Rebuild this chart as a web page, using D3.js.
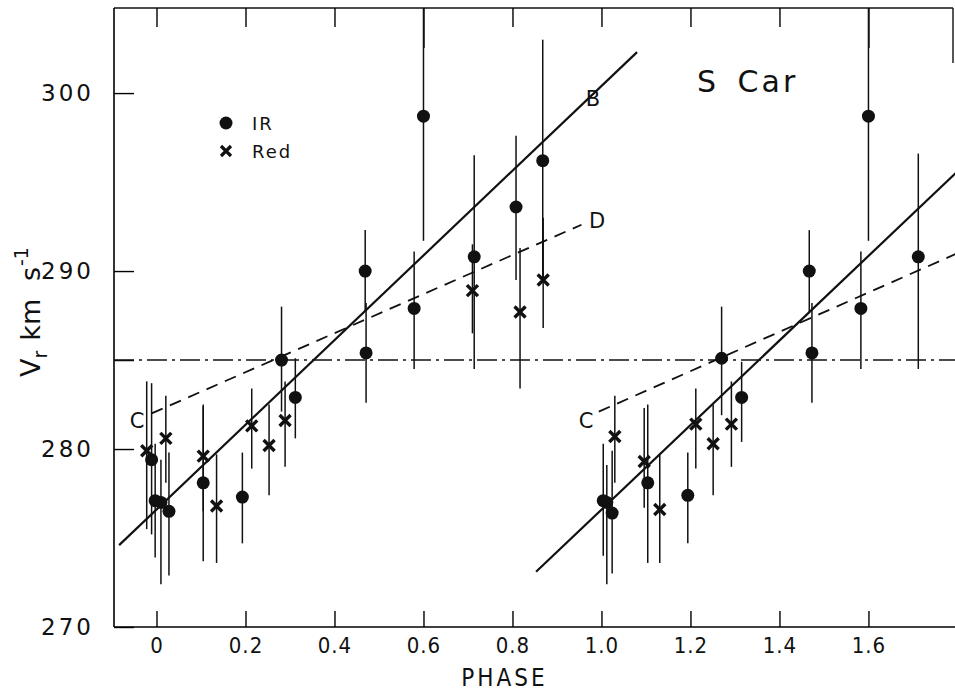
<!DOCTYPE html>
<html>
<head>
<meta charset="utf-8">
<script src="https://cdn.jsdelivr.net/npm/d3@7"></script>
<style>
  body { margin: 0; background: #fff; }
</style>
</head>
<body>
<div class="graph"></div>
<script>
// IR points: [phase, Vr, low end of bar, high end of bar]
const irPoints = [
  [-0.011, 279.4, 275.2, 283.7],
  [-0.003, 277.1, 273.9, 280.3],
  [0.010, 277.0, 272.4, 279.4],
  [0.028, 276.5, 272.9, 279.8],
  [0.105, 278.1, 273.7, 282.4],
  [0.193, 277.3, 274.7, 279.8],
  [0.281, 285.0, 282.1, 288.0],
  [0.312, 282.9, 280.6, 285.1],
  [0.469, 290.0, 287.7, 292.3],
  [0.471, 285.4, 282.6, 288.2],
  [0.579, 287.9, 284.5, 291.1],
  [0.600, 298.7, 291.7, 305.7],
  [0.714, 290.8, 284.5, 296.5],
  [0.808, 293.6, 289.5, 297.6],
  [0.868, 296.2, 289.4, 303.0],
  [1.004, 277.1, 274.0, 280.3],
  [1.012, 277.0, 272.4, 279.1],
  [1.024, 276.4, 273.0, 279.9],
  [1.104, 278.1, 273.6, 282.5],
  [1.194, 277.4, 274.7, 279.8],
  [1.270, 285.1, 281.9, 288.0],
  [1.315, 282.9, 280.4, 284.9],
  [1.467, 290.0, 287.7, 292.3],
  [1.473, 285.4, 282.6, 288.2],
  [1.583, 287.9, 284.5, 291.1],
  [1.600, 298.7, 291.7, 305.7],
  [1.712, 290.8, 284.5, 296.6]
]

// Red points: [phase, Vr, low, high]
const redPoints = [
  [-0.022, 279.9, 275.5, 283.8],
  [0.021, 280.6, 278.1, 283.0],
  [0.105, 279.6, 276.5, 282.5],
  [0.135, 276.8, 273.6, 279.7],
  [0.214, 281.3, 278.9, 283.4],
  [0.253, 280.2, 277.4, 282.5],
  [0.289, 281.6, 279.0, 283.8],
  [0.710, 288.9, 286.5, 291.5],
  [0.817, 287.7, 283.4, 291.3],
  [0.869, 289.5, 286.8, 293.0],
  [1.030, 280.7, 278.1, 283.0],
  [1.096, 279.3, 276.7, 282.3],
  [1.131, 276.6, 273.6, 279.7],
  [1.212, 281.4, 278.9, 283.4],
  [1.251, 280.3, 277.4, 282.5],
  [1.292, 281.4, 279.0, 283.8]
]

// fitted lines, end points [phase, Vr]
const lineB = [[-0.084, 274.6], [1.080, 302.3]]
const lineB2 = [[0.853, 273.1], [1.800, 295.6]]
const lineD = [[-0.011, 282.0], [0.955, 292.6]]
const lineD2 = [[0.994, 282.1], [1.800, 291.0]]
const meanV = 285

const xTicks = [0, 0.2, 0.4, 0.6, 0.8, 1.0, 1.2, 1.4, 1.6]
const xTickLabels = ["0", "0.2", "0.4", "0.6", "0.8", "1.0", "1.2", "1.4", "1.6"]
const longTopTicks = [0.6, 1.6]
const yTicks = [270, 280, 285, 290, 300]
const yTickLabels = [270, 280, 290, 300]

const width = 955, height = 694
const plot = {left: 114, right: 953, top: 8, bottom: 627}

const svg = d3.select(".graph").append("svg")
    .attr("width", width)
    .attr("height", height)
    .style("background", "#fff")

const x = d3.scaleLinear()
    .domain([-0.0955, 1.79])
    .range([plot.left, plot.right])

const y = d3.scaleLinear()
    .domain([270, 304.78])
    .range([plot.bottom, plot.top])

svg.append("clipPath").attr("id", "clip")
  .append("rect")
    .attr("x", plot.left).attr("y", plot.top)
    .attr("width", width - plot.left).attr("height", plot.bottom - plot.top)

const ink = "#111"

// frame
svg.append("line")
    .attr("x1", plot.left).attr("x2", plot.right)
    .attr("y1", plot.top).attr("y2", plot.top)
    .style("stroke", ink).style("stroke-width", 1.6)
svg.append("line")
    .attr("x1", plot.right).attr("x2", plot.right)
    .attr("y1", plot.top).attr("y2", 63)
    .style("stroke", ink).style("stroke-width", 1.4)

// bottom axis, ticks pointing up
svg.append("g")
    .attr("transform", `translate(0, ${plot.bottom})`)
    .call(d3.axisBottom(x).tickValues(xTicks).tickSize(-16).tickSizeOuter(0)
        .tickFormat((d, i) => xTickLabels[i]))
    .call(g => g.select(".domain").attr("d", `M${plot.left},0H${width}`).style("stroke-width", 1.6))
    .call(g => g.selectAll(".tick line").style("stroke-width", 1.4))
    .call(g => g.selectAll("text")
        .attr("dy", "1.05em")
        .style("fill", ink)
        .style("font-family", "'Liberation Sans Narrow', 'DejaVu Sans Condensed', 'DejaVu Sans', sans-serif")
        .style("font-size", "22px")
        .style("letter-spacing", "1px"))

// top axis, ticks pointing down
svg.append("g")
    .attr("transform", `translate(0, ${plot.top})`)
    .call(d3.axisTop(x).tickValues(xTicks).tickFormat("").tickSizeOuter(0)
        .tickSize(-19))
    .call(g => g.select(".domain").remove())
    .call(g => g.selectAll(".tick line")
        .attr("y2", d => longTopTicks.includes(d) ? 40 : 19)
        .style("stroke-width", 1.4))

// left axis, ticks pointing right
svg.append("g")
    .attr("transform", `translate(${plot.left}, 0)`)
    .call(d3.axisLeft(y).tickValues(yTicks).tickSize(-20).tickSizeOuter(0)
        .tickFormat(d => yTickLabels.includes(d) ? d : ""))
    .call(g => g.select(".domain").attr("d", `M0,${plot.top}V${plot.bottom}`).style("stroke-width", 1.6))
    .call(g => g.selectAll(".tick line").style("stroke-width", 1.4))
    .call(g => g.selectAll("text")
        .attr("x", -20)
        .style("fill", ink)
        .style("font-family", "'DejaVu Sans', sans-serif")
        .style("font-size", "23px")
        .style("letter-spacing", "3px"))

// axis titles
svg.append("text")
    .attr("x", x(0.8) - 8).attr("y", 686)
    .attr("text-anchor", "middle")
    .style("font-family", "'Liberation Sans Narrow', 'DejaVu Sans Condensed', sans-serif")
    .style("font-size", "24px")
    .style("letter-spacing", "3px")
    .style("fill", ink)
    .text("PHASE")

const ytitle = svg.append("text")
    .attr("transform", "translate(40, 312) rotate(-90)")
    .attr("text-anchor", "middle")
    .style("font-family", "'DejaVu Sans', sans-serif")
    .style("font-size", "27px")
    .style("fill", ink)
ytitle.append("tspan").text("V")
ytitle.append("tspan").attr("dy", 7).style("font-size", "19px").text("r")
ytitle.append("tspan").attr("dy", -7).attr("dx", 10).style("word-spacing", "9px").text("km  s")
ytitle.append("tspan").attr("dy", -12).attr("dx", 1).style("font-size", "19px").text("-1")

const plotG = svg.append("g").attr("clip-path", "url(#clip)")

// mean velocity, dash-dot
plotG.append("line")
    .attr("x1", x.range()[0]).attr("x2", width)
    .attr("y1", y(meanV)).attr("y2", y(meanV))
    .style("stroke", ink).style("stroke-width", 1.6)
    .style("stroke-dasharray", "20 5 3 5")

const line = d3.line().x(d => x(d[0])).y(d => y(d[1]))

for (const l of [lineB, lineB2]) {
  plotG.append("path").attr("d", line(l))
      .style("fill", "none").style("stroke", ink).style("stroke-width", 2.2)
}
for (const l of [lineD, lineD2]) {
  plotG.append("path").attr("d", line(l))
      .style("fill", "none").style("stroke", ink).style("stroke-width", 1.8)
      .style("stroke-dasharray", "12 8")
}

// error bars
plotG.append("g")
    .selectAll("line")
    .data(irPoints.concat(redPoints))
    .join("line")
    .attr("x1", d => x(d[0])).attr("x2", d => x(d[0]))
    .attr("y1", d => y(d[2])).attr("y2", d => y(d[3]))
    .style("stroke", ink).style("stroke-width", 1.5)

// IR dots
plotG.append("g")
    .selectAll("circle")
    .data(irPoints)
    .join("circle")
    .attr("cx", d => x(d[0]))
    .attr("cy", d => y(d[1]))
    .attr("r", 6.5)
    .style("fill", ink)

// Red crosses
const cross = s => `M${-s},${-s}L${s},${s}M${-s},${s}L${s},${-s}`
plotG.append("g")
    .selectAll("path")
    .data(redPoints)
    .join("path")
    .attr("transform", d => `translate(${x(d[0])}, ${y(d[1])})`)
    .attr("d", cross(5.5))
    .style("stroke", ink).style("stroke-width", 3.4)

// line labels
const annFont = "'DejaVu Sans', sans-serif"
const labels = [
  {t: "B", px: 593, py: 106},
  {t: "D", px: 597, py: 228},
  {t: "C", px: 137, py: 428},
  {t: "C", px: 586, py: 428}
]
svg.append("g")
    .selectAll("text")
    .data(labels)
    .join("text")
    .attr("x", d => d.px).attr("y", d => d.py)
    .attr("text-anchor", "middle")
    .style("font-family", annFont)
    .style("font-size", "21px")
    .style("fill", ink)
    .text(d => d.t)

// title
svg.append("text")
    .attr("x", 697).attr("y", 92)
    .style("font-family", annFont)
    .style("font-size", "30px")
    .style("letter-spacing", "3px")
    .style("word-spacing", "6px")
    .style("fill", ink)
    .text("S Car")

// legend
svg.append("circle").attr("cx", 226).attr("cy", 123).attr("r", 6.5).style("fill", ink)
svg.append("path").attr("transform", "translate(226, 151)").attr("d", cross(5))
    .style("stroke", ink).style("stroke-width", 3.2)
svg.append("text").attr("x", 252).attr("y", 130)
    .style("font-family", annFont).style("font-size", "18px").style("letter-spacing", "2px")
    .style("fill", ink).text("IR")
svg.append("text").attr("x", 252).attr("y", 158)
    .style("font-family", annFont).style("font-size", "18px").style("letter-spacing", "2px")
    .style("fill", ink).text("Red")
</script>
</body>
</html>
